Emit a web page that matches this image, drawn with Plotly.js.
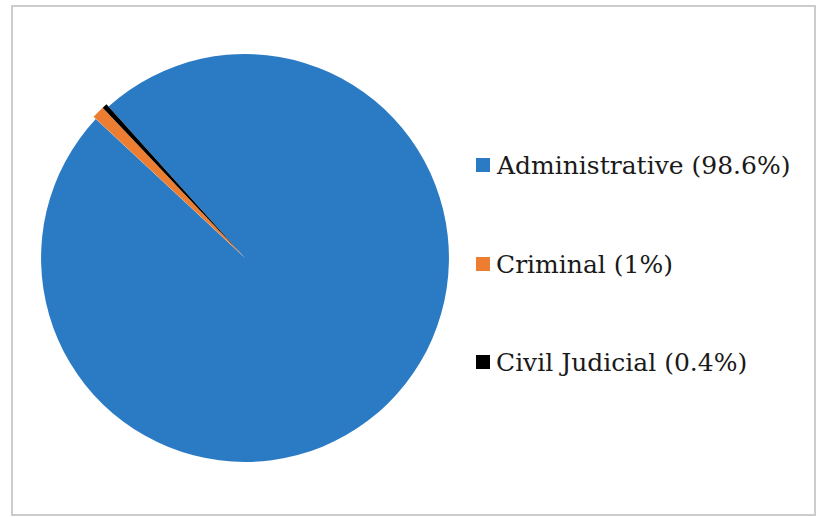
<!DOCTYPE html>
<html>
<head>
<meta charset="utf-8">
<script src="https://cdn.plot.ly/plotly-3.0.1.min.js"></script>
<style>html,body{margin:0;padding:0;background:#fff;}#chart{width:820px;height:517px;}</style>
</head>
<body>
<div id="chart"></div>
<script>
const categories = ["Administrative", "Criminal", "Civil Judicial"];
const shares = [98.6, 1, 0.4];
const legendLabels = ["Administrative (98.6%)", "Criminal (1%)", "Civil Judicial (0.4%)"];
const colors = ["#2a7bc4", "#ed7d31", "#000000"];

const W = 820, H = 517;
const legendRowsPx = [165, 264, 362];

const shapes = [{
  type: "rect", xref: "paper", yref: "paper",
  x0: 12 / W, x1: 815 / W, y0: 1 - 515 / H, y1: 1 - 6 / H,
  line: {color: "#cccccc", width: 2}, fillcolor: "rgba(0,0,0,0)", layer: "below"
}];
const annotations = [];
categories.forEach((c, i) => {
  const yc = 1 - legendRowsPx[i] / H;
  shapes.push({
    type: "rect", xref: "paper", yref: "paper",
    x0: 476 / W, x1: 490 / W, y0: yc - 7 / H, y1: yc + 7 / H,
    fillcolor: colors[i], line: {width: 0}
  });
  annotations.push({
    xref: "paper", yref: "paper", x: 494 / W, y: yc,
    xanchor: "left", yanchor: "middle", showarrow: false,
    text: legendLabels[i],
    font: {family: "DejaVu Serif", size: 25, color: "#1a1a1a"}
  });
});

const trace = {
  type: "pie",
  labels: categories,
  values: shares,
  sort: false,
  direction: "clockwise",
  rotation: -42,
  pull: [0, 0.015, 0.015],
  marker: {colors: colors, line: {width: 0}},
  textinfo: "none",
  hoverinfo: "label+percent",
  showlegend: false,
  domain: {x: [38 / W, 452 / W], y: [1 - 465 / H, 1 - 51 / H]}
};

Plotly.newPlot("chart", [trace], {
  width: W, height: H,
  margin: {l: 0, r: 0, t: 0, b: 0},
  paper_bgcolor: "#ffffff",
  showlegend: false,
  shapes: shapes,
  annotations: annotations
}, {displayModeBar: false, staticPlot: true});
</script>
</body>
</html>
